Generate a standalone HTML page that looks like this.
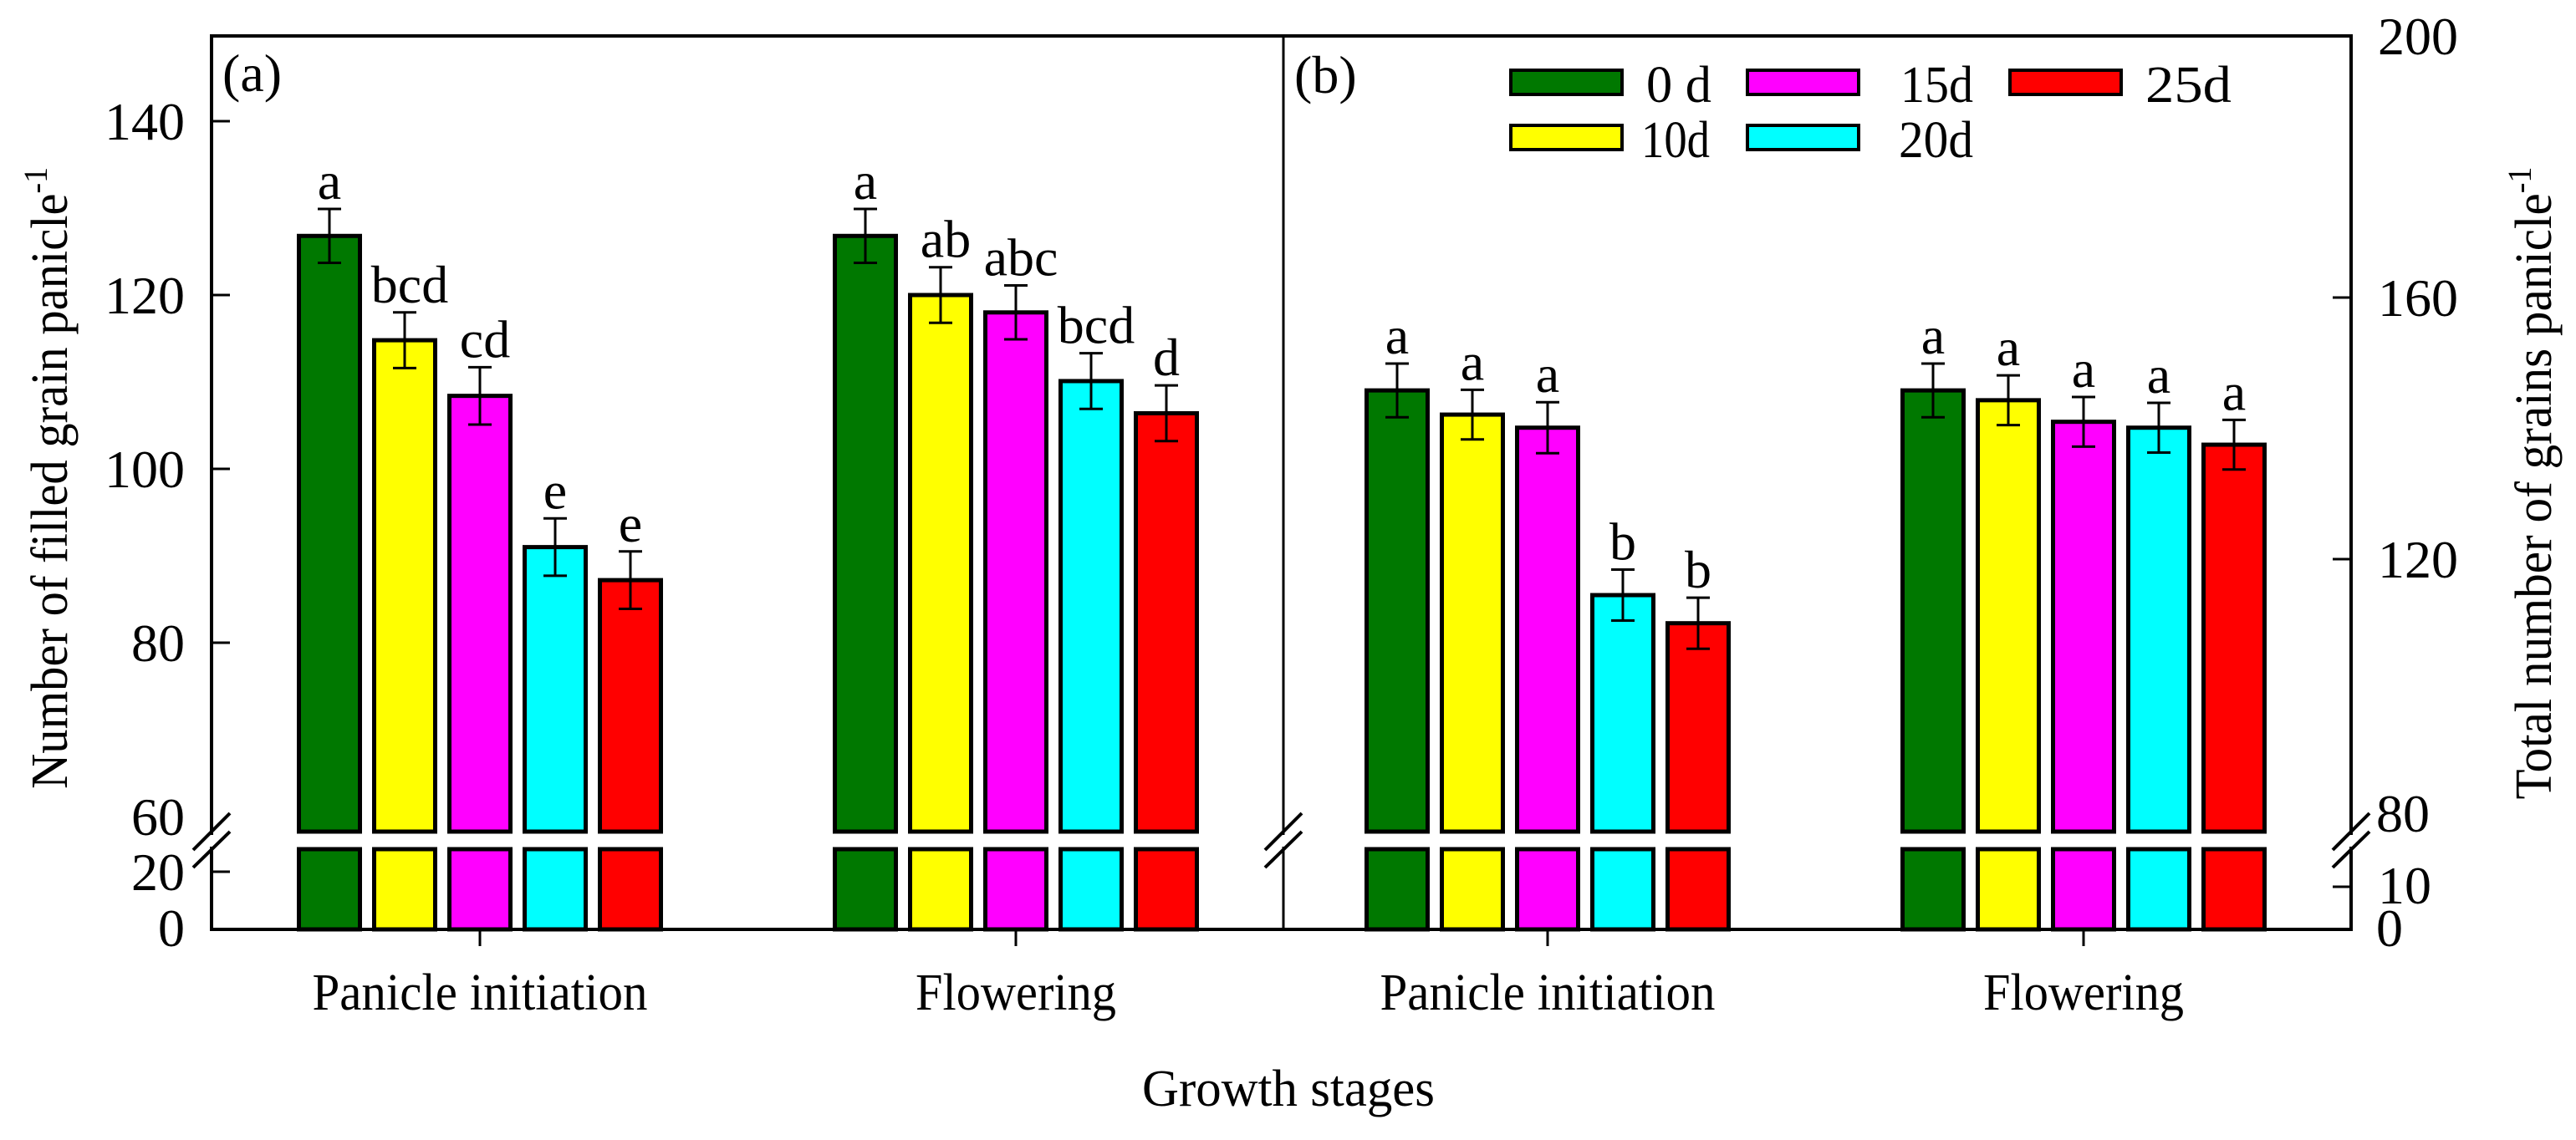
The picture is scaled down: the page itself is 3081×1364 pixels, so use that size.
<!DOCTYPE html>
<html><head><meta charset="utf-8"><style>
html,body{margin:0;padding:0;background:#fff;}
svg{display:block;font-family:"Liberation Serif","Times New Roman",serif;}
</style></head><body>
<svg id="chart" width="3081" height="1364" viewBox="0 0 3081 1364" xmlns="http://www.w3.org/2000/svg">
<g id="frame"></g>
<g id="bars"></g>
<g id="axes"></g>
<g id="legend"></g>
</svg>
<script>
const treatments = ["0 d","10d","15d","20d","25d"];
const legendLabels = ["0 d","10d","15d","20d","25d"];
const colors = ["#007800","#ffff00","#ff00ff","#00ffff","#ff0000"];
const stages = ["Panicle initiation","Flowering"];
// Panel (a): filled grains per panicle
const filledPI = [126.8, 114.8, 108.4, 91.0, 87.2];
const filledPIErr = [3.1, 3.2, 3.3, 3.3, 3.3];
const filledFL = [126.8, 120.0, 118.0, 110.1, 106.4];
const filledFLErr = [3.1, 3.2, 3.1, 3.2, 3.2];
const lettersAPI = ["a","bcd","cd","e","e"];
const lettersAFL = ["a","ab","abc","bcd","d"];
// Panel (b): total grains per panicle
const totalPI = [145.8, 142.1, 140.1, 114.5, 110.2];
const totalPIErr = [4.1, 3.8, 3.9, 3.9, 3.9];
const totalFL = [145.8, 144.3, 141.0, 140.1, 137.5];
const totalFLErr = [4.1, 3.8, 3.8, 3.8, 3.8];
const lettersBPI = ["a","a","a","b","b"];
const lettersBFL = ["a","a","a","a","a"];
const leftTicksUpper = [60, 80, 100, 120, 140];
const leftTicksLower = [0, 20];
const rightTicksUpper = [80, 120, 160, 200];
const rightTicksLower = [0, 10];

const NS = "http://www.w3.org/2000/svg";
function mk(parent, tag, attrs, text){
  const e = document.createElementNS(NS, tag);
  for (const k in attrs) e.setAttribute(k, attrs[k]);
  if (text !== undefined) e.textContent = text;
  parent.appendChild(e);
  return e;
}
const L = 253, R = 2812, T = 43, B = 1112, MID = 1535;
const upperBottom = 995, lowerTop = 1016;
const FS = 64;
const yA = v => 561 - (v - 100) * 10.4;
const yAlow = v => B - v * 3.45;
const yB = v => 43 + (200 - v) * 7.825;
const yBlow = v => B - v * 5.1;
const groupCenters = {a:[574, 1215], b:[1851, 2492]};
const pitch = 90, bw = 73;

const frame = document.getElementById('frame');
const fr = mk(frame,'rect',{x:L,y:T,width:R-L,height:B-T,fill:'none',stroke:'#000','stroke-width':4});


const dv = mk(frame,'line',{x1:MID,y1:T,x2:MID,y2:B,stroke:'#000','stroke-width':3});



const barsG = document.getElementById('bars');
function drawGroup(panel, gi, vals, errs, letters, yUp){
  const cx = groupCenters[panel][gi];
  vals.forEach((v,i)=>{
    const x = cx + (i-2)*pitch - bw/2;
    const top = yUp(v);
    const r1 = mk(barsG,'rect',{x:x,y:top,width:bw,height:upperBottom-top,fill:colors[i],stroke:'#000','stroke-width':5});
    
    
    const r2 = mk(barsG,'rect',{x:x,y:lowerTop,width:bw,height:B-lowerTop,fill:colors[i],stroke:'#000','stroke-width':5});
    
    
    const ex = x + bw/2;
    const eT = yUp(v+errs[i]), eB = yUp(v-errs[i]);
    const eg = mk(barsG,'path',{d:`M${ex},${eT}V${eB}M${ex-14},${eT}H${ex+14}M${ex-14},${eB}H${ex+14}`,stroke:'#000','stroke-width':3,fill:'none'});
    
    
    const t = mk(barsG,'text',{x:ex+(letters[i].length>1?6:0),y:eT-12,'font-size':FS,'text-anchor':'middle'},letters[i]);
    
    
  });
}
drawGroup('a',0,filledPI,filledPIErr,lettersAPI,yA);
drawGroup('a',1,filledFL,filledFLErr,lettersAFL,yA);
drawGroup('b',0,totalPI,totalPIErr,lettersBPI,yB);
drawGroup('b',1,totalFL,totalFLErr,lettersBFL,yB);

const ax = document.getElementById('axes');
function lbl(x,y,s,anchor,name){
  const t = mk(ax,'text',{x:x,y:y,'font-size':FS,'text-anchor':anchor},s);
  
  
}
function tick(x1,y,x2,name){
  const l = mk(ax,'line',{x1:x1,y1:y,x2:x2,y2:y,stroke:'#000','stroke-width':3});
  
  
}
leftTicksUpper.forEach(v=>{ if(v!==60) tick(L,yA(v),L+22,'left-y-tick'); lbl(221,yA(v)+22,String(v),'end','left-y-tick-label'); });
leftTicksLower.forEach(v=>{ if(v!==0){ tick(L,yAlow(v),L+22,'left-y-tick'); lbl(221,yAlow(v)+22,String(v),'end','left-y-tick-label'); } else lbl(221,B+20,'0','end','left-y-tick-label'); });
rightTicksUpper.forEach(v=>{ if(v!==80){ tick(R,yB(v),R-22,'right-y-tick'); lbl(2844,yB(v)+22,String(v),'start','right-y-tick-label'); } else lbl(2842,yB(v)+13,String(v),'start','right-y-tick-label'); });
rightTicksLower.forEach(v=>{ if(v!==0){ tick(R,yBlow(v),R-22,'right-y-tick'); lbl(2844,yBlow(v)+20,String(v),'start','right-y-tick-label'); } else lbl(2842,B+20,'0','start','right-y-tick-label'); });

[L, MID, R].forEach(x=>{
  const w = mk(ax,'rect',{x:x-4,y:999,width:8,height:14,fill:'#fff'});
  
  
  const b = mk(ax,'path',{d:`M${x-22},1017L${x+22},973M${x-22},1038L${x+22},995`,stroke:'#000','stroke-width':4});
  
  
});

const stageWidths = [401, 240];
['a','b'].forEach(p=>{
  groupCenters[p].forEach((cx,gi)=>{
    const l = mk(ax,'line',{x1:cx,y1:B,x2:cx,y2:B+20,stroke:'#000','stroke-width':3});
    
    
    const t = mk(ax,'text',{x:cx,y:1208,'font-size':62,'text-anchor':'middle',textLength:stageWidths[gi],lengthAdjust:'spacingAndGlyphs'},stages[gi]);
    
    
  });
});
const xt = mk(ax,'text',{x:1541,y:1323,'font-size':62,'text-anchor':'middle',textLength:350,lengthAdjust:'spacingAndGlyphs'},'Growth stages');



const ly = mk(ax,'text',{x:0,y:0,'font-size':62,'text-anchor':'middle',transform:'translate(80,572) rotate(-90)',textLength:744,lengthAdjust:'spacingAndGlyphs'});


ly.appendChild(document.createTextNode('Number of filled grain panicle'));
mk(ly,'tspan',{'font-size':40,dy:-24},'-1');

const ry = mk(ax,'text',{x:0,y:0,'font-size':62,'text-anchor':'middle',transform:'translate(3051,578) rotate(-90)',textLength:757,lengthAdjust:'spacingAndGlyphs'});


ry.appendChild(document.createTextNode('Total number of grains panicle'));
mk(ry,'tspan',{'font-size':40,dy:-24},'-1');

const pa = mk(ax,'text',{x:266,y:109,'font-size':64},'(a)');


const pb = mk(ax,'text',{x:1548,y:111,'font-size':64},'(b)');



const lg = document.getElementById('legend');
const legBoxX = [1807, 1807, 2090, 2090, 2404];
const legBoxY = [84, 150, 84, 150, 84];
const legTextX = [1969, 1963, 2273, 2271, 2566];
const legTextW = [78, 82, 87, 89, 103];
treatments.forEach((tname,i)=>{
  const r = mk(lg,'rect',{x:legBoxX[i],y:legBoxY[i],width:133,height:29,fill:colors[i],stroke:'#000','stroke-width':4});
  
  
  const t = mk(lg,'text',{x:legTextX[i],y:legBoxY[i]+38,'font-size':62,textLength:legTextW[i],lengthAdjust:'spacingAndGlyphs'},legendLabels[i]);
  
  
});
</script>
</body></html>
